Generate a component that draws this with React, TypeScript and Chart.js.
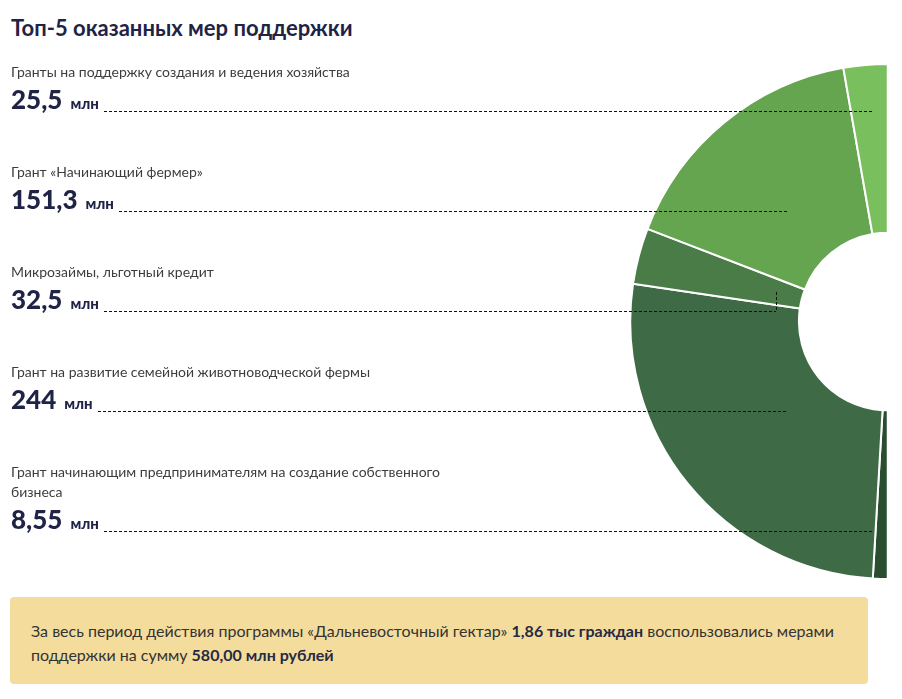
import React, { useEffect, useRef } from "react";
import { Chart, registerables } from "chart.js";

Chart.register(...registerables);

const categories = [
  "Гранты на поддержку создания и ведения хозяйства",
  "Грант «Начинающий фермер»",
  "Микрозаймы, льготный кредит",
  "Грант на развитие семейной животноводческой фермы",
  "Грант начинающим предпринимателям на создание собственного бизнеса",
];
const values = [25.5, 151.3, 32.5, 244, 8.55];
const valueLabels = ["25,5", "151,3", "32,5", "244", "8,55"];
const unit = "млн";
const colors = ["#7abf5d", "#65a550", "#4a7c48", "#3e6a45", "#294d2f"];

const title = "Топ-5 оказанных мер поддержки";

const NAVY = "#1f2346";
const FONT = "Lato, 'Noto Sans', sans-serif";

// layout for leader lines (end x per row)
const leaderEnds = [872, 787, 776, 787, 872];
const rowTops = [62, 162, 262, 362, 462];

export default function App() {
  const ref = useRef<HTMLCanvasElement | null>(null);

  useEffect(() => {
    document.body.style.margin = "0";
    const ctx = ref.current;
    if (!ctx) return;
    // draw in reverse so the arc runs bottom -> left -> top clockwise
    const order = [...values.keys()].reverse();
    const chart = new Chart(ctx, {
      type: "doughnut",
      data: {
        labels: order.map((i) => categories[i]),
        datasets: [
          {
            data: order.map((i) => values[i]),
            backgroundColor: order.map((i) => colors[i]),
            borderColor: "#ffffff",
            borderWidth: 2,
            hoverOffset: 0,
            offset: 0,
          },
        ],
      },
      options: {
        animation: false,
        responsive: false,
        maintainAspectRatio: false,
        rotation: 180,
        circumference: 180,
        cutout: "34.5%",
        layout: { padding: 0 },
        plugins: {
          legend: { display: false },
          tooltip: { enabled: false },
        },
        events: [],
      },
    });
    return () => chart.destroy();
  }, []);

  return (
    <div
      style={{
        position: "relative",
        width: 902,
        height: 699,
        fontFamily: FONT,
        background: "#fff",
        overflow: "hidden",
      }}
    >
      <div
        style={{
          position: "absolute",
          left: 11,
          top: 13,
          fontSize: 22,
          fontWeight: 700,
          color: NAVY,
          lineHeight: "30px",
          whiteSpace: "nowrap",
        }}
      >
        {title}
      </div>

      <canvas
        ref={ref}
        width={262}
        height={517}
        style={{ position: "absolute", left: 628, top: 63, width: 262, height: 517 }}
      />

      {categories.map((c, i) => (
        <div
          key={i}
          style={{
            position: "absolute",
            left: 11,
            top: rowTops[i],
            width: leaderEnds[i] - 11,
            zIndex: 2,
          }}
        >
          <div
            style={{
              fontSize: 14,
              color: "#3d3d3d",
              lineHeight: "20px",
              width: i === 4 ? 440 : 500,
            }}
          >
            {c}
          </div>
          <div
            style={{
              display: "flex",
              alignItems: "baseline",
              marginTop: 2,
              color: NAVY,
              height: 30,
            }}
          >
            <span style={{ fontSize: 26, fontWeight: 900, lineHeight: "30px" }}>
              {valueLabels[i]}
            </span>
            <span style={{ fontSize: 15, fontWeight: 900, marginLeft: 8 }}>{unit}</span>
            <div
              style={{
                flex: 1,
                height: 1,
                marginLeft: 5,
                position: "relative",
                top: 3,
                backgroundImage:
                  "repeating-linear-gradient(to right, #111 0px, #111 3px, transparent 3px, transparent 5px)",
              }}
            />
          </div>
        </div>
      ))}

      <div
        style={{
          position: "absolute",
          left: 776,
          top: 292,
          width: 1,
          height: 19,
          zIndex: 2,
          backgroundImage:
            "repeating-linear-gradient(to bottom, #111 0px, #111 3px, transparent 3px, transparent 5px)",
        }}
      />

      <div
        style={{
          position: "absolute",
          left: 10,
          top: 597,
          width: 858,
          height: 87,
          background: "#f4dc9c",
          borderRadius: 4,
          boxSizing: "border-box",
          padding: "22px 20px 0 21px",
          fontSize: 16,
          lineHeight: "24px",
          color: "#333",
        }}
      >
        За весь период действия программы «Дальневосточный гектар»{" "}
        <b style={{ color: "#252a45" }}>1,86 тыс граждан</b> воспользовались мерами поддержки на
        сумму <b style={{ color: "#252a45" }}>580,00 млн рублей</b>
      </div>
    </div>
  );
}
